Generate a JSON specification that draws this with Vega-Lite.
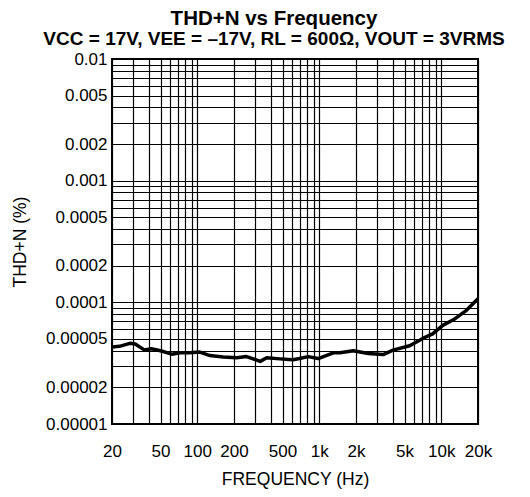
{
  "$schema": "https://vega.github.io/schema/vega-lite/v6.json",
  "width": 366,
  "height": 365,
  "autosize": {"type": "none"},
  "padding": {"left": 112, "top": 59, "right": 52, "bottom": 73},
  "title": {
    "text": "THD+N vs Frequency",
    "subtitle": "VCC = 17V, VEE = –17V, RL = 600Ω, VOUT = 3VRMS",
    "frame": "group",
    "anchor": "middle",
    "dx": -21,
    "offset": 1,
    "font": "Liberation Sans",
    "fontSize": 20.5,
    "fontWeight": "bold",
    "color": "#000",
    "subtitleFont": "Liberation Sans",
    "subtitleFontSize": 19,
    "subtitleFontWeight": "bold",
    "subtitleColor": "#000",
    "subtitlePadding": 1
  },
  "data": {
    "values": [
      {"f": 20, "v": 4.3e-5},
      {"f": 23, "v": 4.35e-5},
      {"f": 28, "v": 4.6e-5},
      {"f": 31, "v": 4.55e-5},
      {"f": 37, "v": 4.05e-5},
      {"f": 42, "v": 4.15e-5},
      {"f": 50, "v": 4.0e-5},
      {"f": 62, "v": 3.75e-5},
      {"f": 72, "v": 3.85e-5},
      {"f": 87, "v": 3.85e-5},
      {"f": 105, "v": 3.9e-5},
      {"f": 127, "v": 3.65e-5},
      {"f": 163, "v": 3.55e-5},
      {"f": 210, "v": 3.5e-5},
      {"f": 254, "v": 3.58e-5},
      {"f": 328, "v": 3.27e-5},
      {"f": 371, "v": 3.5e-5},
      {"f": 476, "v": 3.43e-5},
      {"f": 608, "v": 3.38e-5},
      {"f": 690, "v": 3.45e-5},
      {"f": 811, "v": 3.58e-5},
      {"f": 978, "v": 3.45e-5},
      {"f": 1306, "v": 3.85e-5},
      {"f": 1480, "v": 3.85e-5},
      {"f": 1900, "v": 4.0e-5},
      {"f": 2520, "v": 3.8e-5},
      {"f": 3340, "v": 3.72e-5},
      {"f": 4020, "v": 4.05e-5},
      {"f": 5500, "v": 4.4e-5},
      {"f": 7060, "v": 5.05e-5},
      {"f": 8490, "v": 5.5e-5},
      {"f": 10350, "v": 6.5e-5},
      {"f": 12900, "v": 7.3e-5},
      {"f": 16080, "v": 8.6e-5},
      {"f": 20000, "v": 1.07e-4}
    ]
  },
  "mark": {"type": "line", "color": "#000", "strokeWidth": 3.5, "strokeJoin": "round", "clip": true},
  "encoding": {
    "x": {
      "field": "f",
      "type": "quantitative",
      "scale": {"type": "log", "domain": [20, 20000], "nice": false},
      "axis": {
        "title": "FREQUENCY (Hz)",
        "values": [20,30,40,50,60,70,80,90,100,200,300,400,500,600,700,800,900,1000,2000,3000,4000,5000,6000,7000,8000,9000,10000,20000],
        "labelExpr": "indexof([20,50,100,200,500,1000,2000,5000,10000,20000], datum.value) >= 0 ? (datum.value >= 1000 ? format(datum.value/1000, 'd') + 'k' : format(datum.value, 'd')) : ''",
        "labelPadding": 19,
        "titlePadding": 11
      }
    },
    "y": {
      "field": "v",
      "type": "quantitative",
      "scale": {"type": "log", "domain": [0.00001, 0.01], "nice": false},
      "axis": {
        "title": "THD+N (%)",
        "values": [0.00001,0.00002,0.00003,0.00004,0.00005,0.00006,0.00007,0.00008,0.00009,0.0001,0.0002,0.0003,0.0004,0.0005,0.0006,0.0007,0.0008,0.0009,0.001,0.002,0.003,0.004,0.005,0.006,0.007,0.008,0.009,0.01],
        "format": ".5~f",
        "labelExpr": "indexof(['0.01','0.005','0.002','0.001','0.0005','0.0002','0.0001','0.00005','0.00002','0.00001'], datum.label) >= 0 ? datum.label : ''",
        "labelPadding": 5,
        "titlePadding": 16
      }
    }
  },
  "config": {
    "font": "Liberation Sans",
    "view": {"stroke": "#000", "strokeWidth": 2},
    "axis": {
      "grid": true,
      "gridColor": "#000",
      "gridWidth": 1.2,
      "gridOpacity": 1,
      "domain": false,
      "ticks": false,
      "labelFont": "Liberation Sans",
      "labelFontSize": 17,
      "labelColor": "#000",
      "labelOverlap": false,
      "labelFlush": false,
      "titleFont": "Liberation Sans",
      "titleFontSize": 17.5,
      "titleFontWeight": "normal",
      "titleColor": "#000"
    }
  }
}
